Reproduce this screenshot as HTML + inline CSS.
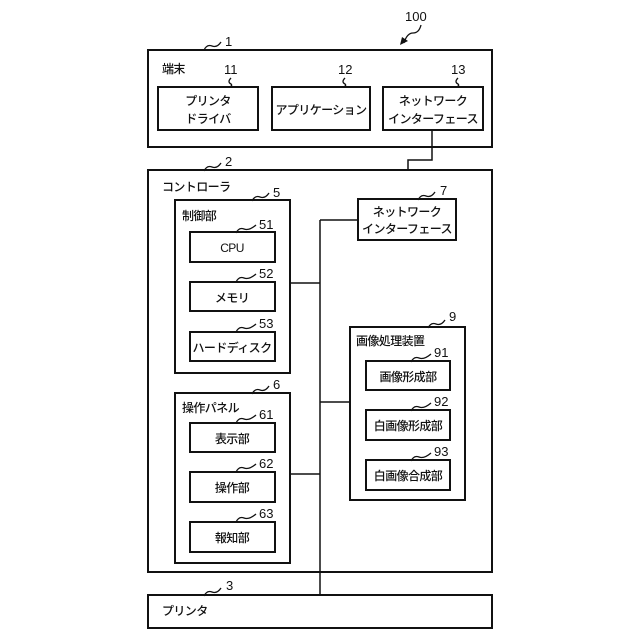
<!DOCTYPE html>
<html><head><meta charset="utf-8"><style>
html,body{margin:0;padding:0;background:#fff;width:640px;height:640px;overflow:hidden}
svg{display:block}
text{font-family:"Liberation Sans","Noto Sans CJK JP",sans-serif;font-size:12px;fill:#111;letter-spacing:-0.6px;font-weight:500}
.b{fill:#fff;stroke:#111;stroke-width:2}
.l{fill:none;stroke:#111;stroke-width:1.3}
.n{font-size:13px;letter-spacing:0}
</style></head><body>
<svg width="640" height="640" viewBox="0 0 640 640">
<text x="405" y="21" class="n">100</text>
<path class="l" d="M421 25 q-2 8 -8 8 q-6 0 -9 10"/>
<path d="M400 45 l2 -8 l6 4 z" fill="#111"/>

<rect class="b" x="148" y="50" width="344" height="97"/>
<text x="162" y="73">端末</text>
<rect class="b" x="158" y="87" width="100" height="43"/>
<text x="208" y="105" text-anchor="middle">プリンタ</text>
<text x="208" y="123" text-anchor="middle">ドライバ</text>
<rect class="b" x="272" y="87" width="98" height="43"/>
<text x="321" y="114" text-anchor="middle">アプリケーション</text>
<rect class="b" x="383" y="87" width="100" height="43"/>
<text x="433" y="105" text-anchor="middle">ネットワーク</text>
<text x="433" y="123" text-anchor="middle">インターフェース</text>
<text x="225" y="46" class="n">1</text><path class="l" d="M204 50 q3 -6 8 -4 q5 2 9 -4"/>
<text x="224" y="74" class="n">11</text><path class="l" d="M231 78 q-4 4 0 6 q2 2 -2 3"/>
<text x="338" y="74" class="n">12</text><path class="l" d="M345 78 q-4 4 0 6 q2 2 -2 3"/>
<text x="451" y="74" class="n">13</text><path class="l" d="M458 78 q-4 4 0 6 q2 2 -2 3"/>

<path class="l" d="M432 130 V160 H408 V199" style="stroke-width:1.5"/>

<rect class="b" x="148" y="170" width="344" height="402"/>
<text x="162" y="191">コントローラ</text>
<text x="225" y="166" class="n">2</text><path class="l" d="M204 171 q3 -6 8 -4 q5 2 9 -4"/>

<path class="l" d="M320 220 V595 M320 220 H358 M290 283 H320 M320 402 H350 M290 474 H320" style="stroke-width:1.5"/>

<rect class="b" x="358" y="199" width="98" height="41"/>
<text x="407" y="216" text-anchor="middle">ネットワーク</text>
<text x="407" y="233" text-anchor="middle">インターフェース</text>
<text x="440" y="195" class="n">7</text><path class="l" d="M418 200 q3 -6 8 -4 q5 2 9 -4"/>

<rect class="b" x="175" y="200" width="115" height="173"/>
<text x="182" y="220">制御部</text>
<text x="273" y="197" class="n">5</text><path class="l" d="M252 201 q3 -6 8 -4 q5 2 9 -4"/>
<rect class="b" x="190" y="232" width="85" height="30"/>
<text x="232" y="252" text-anchor="middle">CPU</text>
<rect class="b" x="190" y="282" width="85" height="29"/>
<text x="232" y="302" text-anchor="middle">メモリ</text>
<rect class="b" x="190" y="332" width="85" height="29"/>
<text x="232" y="352" text-anchor="middle">ハードディスク</text>
<text x="259" y="229" class="n">51</text><path class="l" d="M236 233 q3 -6 8 -4 q5 2 12 -4"/>
<text x="259" y="278" class="n">52</text><path class="l" d="M236 282 q3 -6 8 -4 q5 2 12 -4"/>
<text x="259" y="328" class="n">53</text><path class="l" d="M236 332 q3 -6 8 -4 q5 2 12 -4"/>

<rect class="b" x="175" y="393" width="115" height="170"/>
<text x="182" y="412">操作パネル</text>
<text x="273" y="389" class="n">6</text><path class="l" d="M252 394 q3 -6 8 -4 q5 2 9 -4"/>
<rect class="b" x="190" y="423" width="85" height="29"/>
<text x="232" y="443" text-anchor="middle">表示部</text>
<rect class="b" x="190" y="472" width="85" height="30"/>
<text x="232" y="492" text-anchor="middle">操作部</text>
<rect class="b" x="190" y="522" width="85" height="30"/>
<text x="232" y="542" text-anchor="middle">報知部</text>
<text x="259" y="419" class="n">61</text><path class="l" d="M236 423 q3 -6 8 -4 q5 2 12 -4"/>
<text x="259" y="468" class="n">62</text><path class="l" d="M236 472 q3 -6 8 -4 q5 2 12 -4"/>
<text x="259" y="518" class="n">63</text><path class="l" d="M236 522 q3 -6 8 -4 q5 2 12 -4"/>

<rect class="b" x="350" y="327" width="115" height="173"/>
<text x="356" y="345">画像処理装置</text>
<text x="449" y="321" class="n">9</text><path class="l" d="M428 328 q3 -6 8 -4 q5 2 9 -4"/>
<rect class="b" x="366" y="361" width="84" height="29"/>
<text x="408" y="381" text-anchor="middle">画像形成部</text>
<rect class="b" x="366" y="410" width="84" height="30"/>
<text x="408" y="430" text-anchor="middle">白画像形成部</text>
<rect class="b" x="366" y="460" width="84" height="30"/>
<text x="408" y="480" text-anchor="middle">白画像合成部</text>
<text x="434" y="357" class="n">91</text><path class="l" d="M411 362 q3 -6 8 -4 q5 2 12 -4"/>
<text x="434" y="406" class="n">92</text><path class="l" d="M411 411 q3 -6 8 -4 q5 2 12 -4"/>
<text x="434" y="456" class="n">93</text><path class="l" d="M411 461 q3 -6 8 -4 q5 2 12 -4"/>

<rect class="b" x="148" y="595" width="344" height="33"/>
<text x="162" y="615">プリンタ</text>
<text x="226" y="590" class="n">3</text><path class="l" d="M204 596 q3 -6 8 -4 q5 2 9 -4"/>
</svg>
</body></html>
